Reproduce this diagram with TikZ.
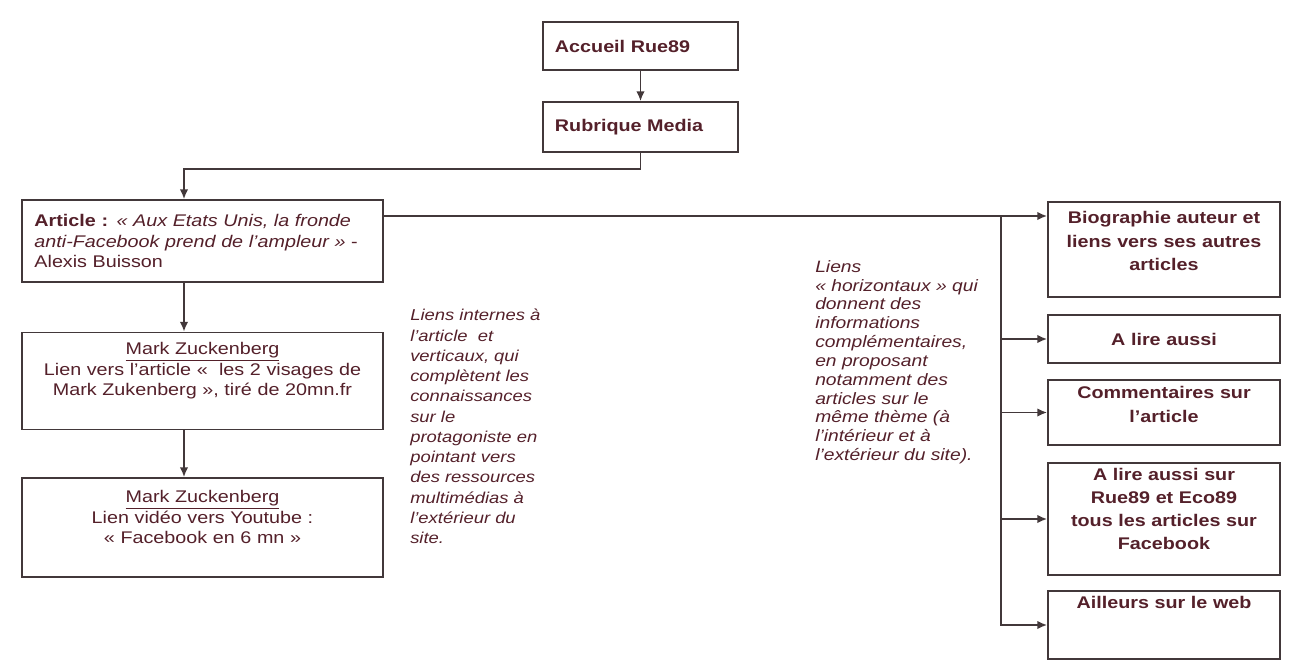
\documentclass[tikz,border=0pt]{standalone}
\usepackage{fontspec}
\setmainfont{Liberation Sans}[FakeStretch=1.17]
\usetikzlibrary{arrows.meta}
\definecolor{inkred}{RGB}{84,32,42}
\definecolor{rulegray}{RGB}{66,56,58}

\begin{document}
\begin{tikzpicture}[x=0.025cm,y=-0.025cm]
            \tikzset{box/.style={draw=rulegray,line width=1.2pt,fill=white,text=inkred,inner xsep=0.3cm,font=\fontsize{12}{14.5}\selectfont},
                     topbox/.style={box,minimum width=4.875cm,text width=4.275cm,align=left,font=\bfseries\fontsize{12}{14.5}\selectfont},
                     leftbox/.style={box,minimum width=9.025cm,text width=8.4cm},
                     sidebox/.style={box,minimum width=5.8cm,text width=5.4cm,inner xsep=0.2cm,align=center,font=\bfseries\fontsize{12}{16.5}\selectfont},
                     note/.style={anchor=north west,align=left,text=inkred,inner sep=0pt,font=\itshape\fontsize{11.2}{14.4}\selectfont},
                     link/.style={draw=rulegray,line width=1.2pt},
                     tip/.style={link,-{Latex[length=7pt,width=6pt]}}}
            \useasboundingbox (0,0) rectangle (1290,659);
            \node [topbox,minimum height=1.2cm] (accueil) at (640.5,46) {Accueil Rue89};
            \node [topbox,minimum height=1.25cm] (rubrique) at (640.5,127) {Rubrique Media};
            \node [leftbox,minimum height=2.05cm,align=left] (article) at (202.5,241)
                {\textbf{Article :} \textit{«~Aux Etats Unis, la fronde}\\\textit{anti-Facebook prend de l'ampleur »} -\\Alexis Buisson};
            \node [leftbox,minimum height=2.425cm,align=center,text depth=46pt] (mark1) at (202.5,381)
                {\underline{Mark Zuckenberg}\\Lien vers l'article «~ les 2 visages de\\Mark Zukenberg », tiré de 20mn.fr};
            \node [leftbox,minimum height=2.475cm,align=center,text depth=44pt] (mark2) at (202.5,527.5)
                {\underline{Mark Zuckenberg}\\Lien vidéo vers Youtube :\\«~Facebook en 6 mn~»};
            \node [sidebox,minimum height=2.375cm,text depth=45pt] (bio) at (1164,249.5) {Biographie auteur et\\liens vers ses autres\\articles};
            \node [sidebox,minimum height=1.2cm] (alire) at (1164,339) {A lire aussi};
            \node [sidebox,minimum height=1.625cm,text depth=28pt] (comm) at (1164,412.5) {Commentaires sur\\l'article};
            \node [sidebox,minimum height=2.8cm,text depth=64pt] (alire2) at (1164,519) {A lire aussi sur\\Rue89 et Eco89\\tous les articles sur\\Facebook};
            \node [sidebox,minimum height=1.6cm,text depth=1.15cm] (ailleurs) at (1164,625) {Ailleurs sur le web};
            \node [note] (vnote) at (410,309) {Liens internes à\\l'article~ et\\verticaux, qui\\complètent les\\connaissances\\sur le\\protagoniste en\\pointant vers\\des ressources\\multimédias à\\l'extérieur du\\site.};
            \node [note,font=\itshape\fontsize{11.7}{13.4}\selectfont] (hnote) at (815,260) {Liens\\«~horizontaux~» qui\\donnent des\\informations\\complémentaires,\\en proposant\\notamment des\\articles sur le\\même thème (à\\l'intérieur et à\\l'extérieur du site).};
            \coordinate (spine) at (184,0);
            \coordinate (branch) at (1001,216);
            \draw [tip] (accueil.south) -- (rubrique.north);
            \draw [tip] (rubrique.south) -- ++(0,16) -| (article.north -| spine);
            \draw [tip] (article.south -| spine) -- (mark1.north -| spine);
            \draw [tip] (mark1.south -| spine) -- (mark2.north -| spine);
            \draw [tip] (article.east |- branch) -- (bio.west |- branch);
            \draw [tip] (branch) |- (ailleurs.west);
            \foreach \n in {alire,comm,alire2}
                \draw [tip] (branch |- \n.west) -- (\n.west);
        \end{tikzpicture}
\end{document}
